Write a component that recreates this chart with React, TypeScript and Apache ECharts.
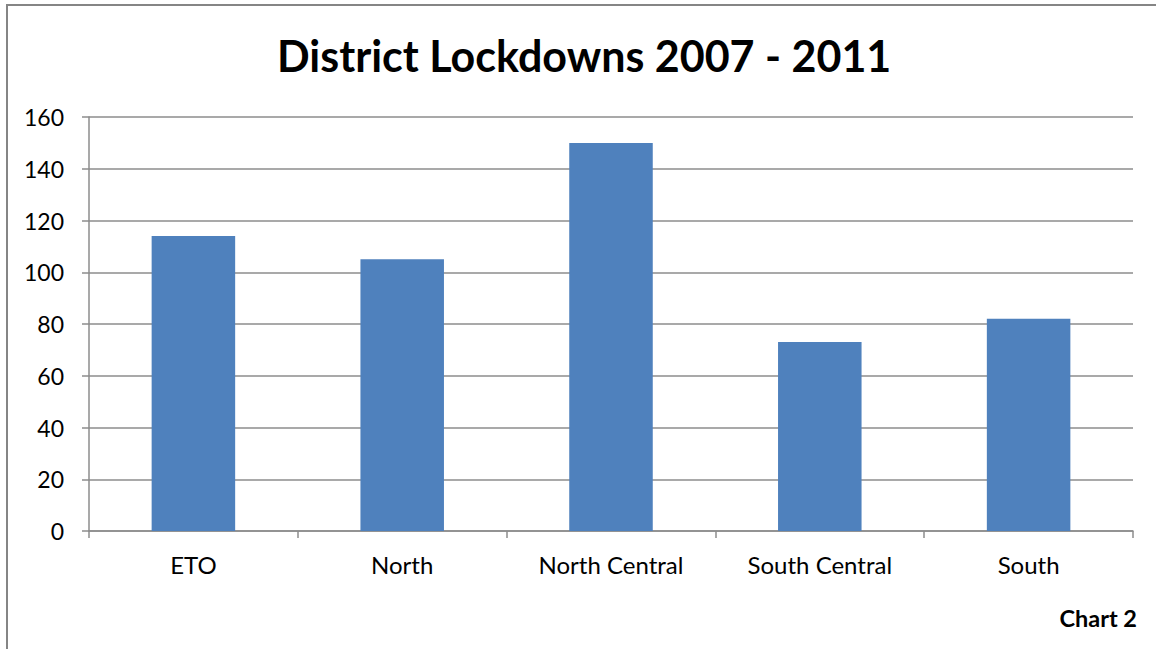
import React, { useEffect, useRef } from "react";
import * as echarts from "echarts";

const categories = ["ETO", "North", "North Central", "South Central", "South"];
const values = [114, 105, 150, 73, 82];
const titleText = "District Lockdowns 2007 - 2011";
const noteText = "Chart 2";

export default function App() {
  const ref = useRef<HTMLDivElement>(null);
  useEffect(() => {
    const chart = echarts.init(ref.current!, null, { renderer: "svg" });
    chart.setOption({
      animation: false,
      backgroundColor: "#ffffff",
      title: {
        text: titleText,
        left: 277,
        top: 34,
        padding: 0,
        textStyle: { fontFamily: "Lato", fontWeight: "bold", fontSize: 43, color: "#000" },
      },
      grid: { left: 89, right: 23, top: 117, bottom: 118, containLabel: false },
      xAxis: {
        type: "category",
        data: categories,
        axisLine: { lineStyle: { color: "#8c8c8c", width: 1.5 } },
        axisTick: { show: true, length: 7, alignWithLabel: false, lineStyle: { color: "#8c8c8c", width: 1.5 } },
        axisLabel: { fontFamily: "Lato", fontSize: 24, color: "#000", margin: 21 },
      },
      yAxis: {
        type: "value",
        min: 0,
        max: 160,
        interval: 20,
        axisLine: { show: true, lineStyle: { color: "#8c8c8c", width: 1.5 } },
        axisTick: { show: true, length: 7, inside: false, lineStyle: { color: "#8c8c8c", width: 1.5 } },
        axisLabel: { fontFamily: "Lato", fontSize: 23, color: "#000", margin: 25 },
        splitLine: { lineStyle: { color: "#8c8c8c", width: 1.5 } },
      },
      series: [
        {
          type: "bar",
          data: values,
          barWidth: "40%",
          itemStyle: { color: "#4f81bd" },
        },
      ],
      graphic: [
        {
          type: "rect",
          shape: { x: 7, y: 5, width: 1200, height: 700 },
          style: { fill: "none", stroke: "#858585", lineWidth: 2 },
          silent: true,
        },
        {
          type: "text",
          right: 19,
          top: 606,
          style: { text: noteText, fontFamily: "Lato", fontWeight: "bold", fontSize: 23.5, fill: "#000" },
        },
      ],
    });
    return () => chart.dispose();
  }, []);
  return <div ref={ref} style={{ position: "fixed", left: 0, top: 0, width: 1156, height: 649 }} />;
}
